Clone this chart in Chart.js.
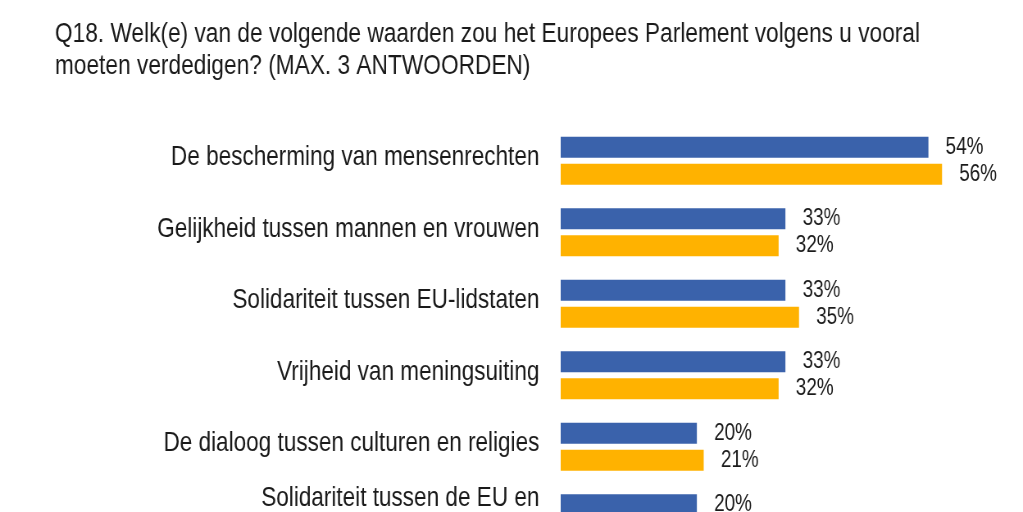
<!DOCTYPE html>
<html lang="nl">
<head>
<meta charset="utf-8">
<title>Q18</title>
<script src="https://cdn.jsdelivr.net/npm/chart.js@4/dist/chart.umd.min.js"></script>
<style>
  html, body { margin: 0; padding: 0; background: #fff; overflow: hidden; }
  #wrap { position: relative; width: 1023px; height: 614px; overflow: hidden; }
  /* smalle letter (Arial Narrow) nabootsen: canvas breder tekenen en horizontaal inschalen */
  #chart { transform-origin: 0 0; transform: scaleX(0.8197); }
</style>
</head>
<body>
<div id="wrap"><canvas id="chart" width="1248" height="614"></canvas></div>
<script>
// gegevens
const titleLines = [
  'Q18. Welk(e) van de volgende waarden zou het Europees Parlement volgens u vooral',
  'moeten verdedigen? (MAX. 3 ANTWOORDEN)'
];
const categories = [
  'De bescherming van mensenrechten',
  'Gelijkheid tussen mannen en vrouwen',
  'Solidariteit tussen EU-lidstaten',
  'Vrijheid van meningsuiting',
  'De dialoog tussen culturen en religies',
  ['Solidariteit tussen de EU en', 'arme landen']
];
const seriesNames = ['EU28', 'NL'];
const euValues = [54, 33, 33, 33, 20, 20];
const nlValues = [56, 32, 35, 32, 21, null]; // laatste balk valt buiten beeld

const FONT = "'Liberation Sans', Arial, sans-serif";
const TEXT = '#1a1a1a';

// percentages rechts naast de balken
const valueLabels = {
  id: 'valueLabels',
  afterDatasetsDraw(chart) {
    const ctx = chart.ctx;
    ctx.save();
    ctx.font = '23px ' + FONT;
    ctx.fillStyle = TEXT;
    ctx.textAlign = 'left';
    ctx.textBaseline = 'middle';
    chart.data.datasets.forEach(function(ds, i) {
      const meta = chart.getDatasetMeta(i);
      meta.data.forEach(function(bar, j) {
        const v = ds.data[j];
        if (v === null || v === undefined) return;
        ctx.fillText(v + '%', bar.x + 21, bar.y);
      });
    });
    ctx.restore();
  }
};

const ctx = document.getElementById('chart');
new Chart(ctx, {
  type: 'bar',
  data: {
    labels: categories,
    datasets: [
      { label: seriesNames[0], data: euValues, backgroundColor: '#3a62ab' },
      { label: seriesNames[1], data: nlValues, backgroundColor: '#ffb200' }
    ]
  },
  options: {
    indexAxis: 'y',
    responsive: false,
    animation: false,
    devicePixelRatio: 1,
    layout: { padding: { left: 67, right: 24, top: 0, bottom: 60 } },
    datasets: {
      bar: { categoryPercentage: 0.755, barPercentage: 0.778 }
    },
    scales: {
      x: { display: false, min: 0, max: 65 },
      y: {
        grid: { display: false, drawTicks: false },
        border: { display: false },
        ticks: {
          color: TEXT,
          padding: 26,
          labelOffset: -3,
          font: { family: FONT, size: 27.5, lineHeight: 1.2 }
        },
        afterFit: function(axis) { axis.width = 617; }
      }
    },
    plugins: {
      legend: { display: false },
      tooltip: { enabled: false },
      title: {
        display: true,
        text: titleLines,
        align: 'start',
        color: TEXT,
        font: { family: FONT, size: 27.7, weight: 'normal', lineHeight: '31.5px' },
        padding: { top: 19, bottom: 43 }
      }
    }
  },
  plugins: [valueLabels]
});
</script>
</body>
</html>
